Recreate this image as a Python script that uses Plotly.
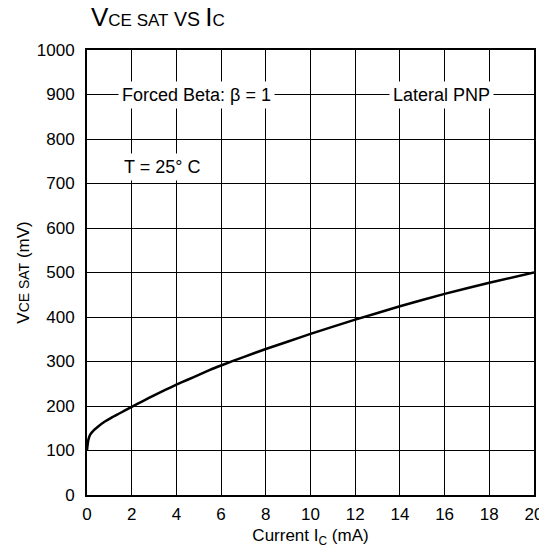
"""VCE SAT vs IC, lateral PNP."""

import plotly.graph_objects as go

# curva
ic_ma = [0, 0.02, 0.06, 0.15, 0.3, 0.5, 0.8, 1.1, 1.4, 1.7, 2, 2.5, 3, 3.5, 4,
         4.5, 5, 5.5, 6, 7, 8, 9, 10, 12, 14, 16, 18, 20]
vce_mv = [100, 110, 124, 136, 145, 154, 165, 174, 182, 190, 198, 211, 224, 236, 248,
          259, 270, 281, 291, 310, 328, 345, 362, 394, 424, 452, 477, 500]

x_ticks = list(range(0, 21, 2))
y_ticks = list(range(0, 1001, 100))

FONT = "Liberation Sans, Arial, Helvetica, sans-serif"

# la página tiene 8 px de margen en el body: la figura se achica para caber
W, H = 539, 544

fig = go.Figure(
    go.Scatter(
        x=ic_ma,
        y=vce_mv,
        mode="lines",
        line=dict(color="black", width=2.5, shape="spline", smoothing=0.5),
        hoverinfo="skip",
        showlegend=False,
    )
)

notes = [
    (4.88, 900, "Forced Beta: β = 1"),
    (15.84, 900, "Lateral PNP"),
    (3.36, 737, "T = 25° C"),
]
for nx, ny, txt in notes:
    fig.add_annotation(
        x=nx, y=ny, text=txt, showarrow=False,
        font=dict(size=18, color="black", family=FONT),
        bgcolor="white", borderpad=3,
    )

fig.update_layout(
    width=W,
    height=H,
    margin=dict(l=79, r=13, t=42, b=57),
    paper_bgcolor="white",
    plot_bgcolor="white",
    font=dict(family=FONT, color="black", size=17),
    title=dict(
        text=(
            "<span style='font-size:26px'>V</span>"
            "<span style='font-size:17px'>CE SAT</span>"
            "<span style='font-size:19.5px'> VS </span>"
            "<span style='font-size:26px'>I</span>"
            "<span style='font-size:17px'>C</span>"
        ),
        x=83 / W, xanchor="left", y=1 - 10 / H, yanchor="middle",
    ),
)
fig.update_xaxes(
    range=[0, 20], tickvals=x_ticks, ticks="", automargin=False,
    showgrid=True, gridcolor="black", gridwidth=1,
    showline=True, linecolor="black", linewidth=2, mirror=True,
    zeroline=False, tickfont=dict(size=17), ticklabelstandoff=3,
    title=dict(text="Current I<sub>C</sub> (mA)", font=dict(size=17), standoff=6),
)
fig.update_yaxes(
    range=[0, 1000], tickvals=y_ticks, ticks="", automargin=False,
    showgrid=True, gridcolor="black", gridwidth=1,
    showline=True, linecolor="black", linewidth=2, mirror=True,
    zeroline=False, tickfont=dict(size=17), ticklabelstandoff=7,
    title=dict(
        text="V<span style='font-size:14px'>CE SAT</span> (mV)",
        font=dict(size=17), standoff=3,
    ),
)

fig.write_html("out.html")
